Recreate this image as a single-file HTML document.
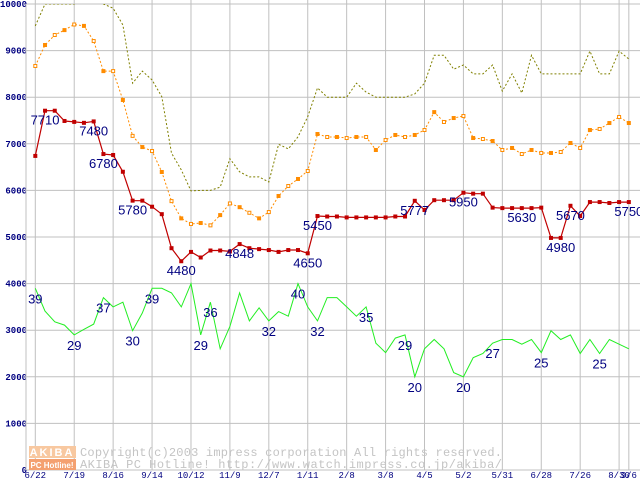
<!DOCTYPE html>
<html><head><meta charset="utf-8"><style>
html,body{margin:0;padding:0;background:#fff;}
svg{display:block;}
</style></head><body>
<svg id="chart" width="640" height="480" viewBox="0 0 640 480" xmlns="http://www.w3.org/2000/svg" font-family="'Liberation Sans', sans-serif">
<rect x="0" y="0" width="640" height="480" fill="#fff"/>
<g id="grid"></g>
<g id="watermark">
  <rect x="29" y="446" width="47" height="12" fill="#f8c8a0"/>
  <text x="52" y="456" font-size="11" font-weight="bold" fill="#fff" text-anchor="middle" letter-spacing="2">AKIBA</text>
  <rect x="29" y="459" width="47" height="11" fill="#f4a070"/>
  <text x="52" y="468" font-size="8" font-weight="bold" fill="#fff" text-anchor="middle">PC Hotline!</text>
  <text x="80" y="456" font-family="'Liberation Mono', monospace" font-size="12" fill="#c4c4c4" textLength="422">Copyright(c)2003 impress corporation All rights reserved.</text>
  <text x="80" y="468" font-family="'Liberation Mono', monospace" font-size="12" fill="#c4c4c4" textLength="422">AKIBA PC Hotline!  http://www.watch.impress.co.jp/akiba/</text>
</g>
<g id="series"></g>
<g id="labels"></g>
</svg>
<script>
const xTickLabels = ["6/22","7/19","8/16","9/14","10/12","11/9","12/7","1/11","2/8","3/8","4/5","5/2","5/31","6/28","7/26","8/30","9/6"];
const xTickIndex = [0,4,8,12,16,20,24,28,32,36,40,44,48,52,56,60,61];
const yTicks = [0,1000,2000,3000,4000,5000,6000,7000,8000,9000,10000];
const maxSeries = [9530,10000,10000,10000,10000,10200,10100,10000,9910,9550,8300,8560,8370,8010,6800,6440,5990,6000,6000,
 6070,6680,6400,6290,6290,6180,6990,6890,7150,7580,
 8200,8000,8000,8000,8300,8110,8000,8000,8000,8000,8070,
 8300,8900,8900,8600,8690,8500,8500,8690,8130,8500,8090,8900,8500,8500,8500,8500,8500,8990,8500,8500,8990,8820];
const avgSeries = [8670,9120,9335,9440,9560,9530,9205,8560,8560,7940,7170,6930,6845,6395,5770,5400,5280,5300,5250,
 5470,5720,5640,5520,5400,5535,5880,6094,6245,6416,
 7210,7146,7146,7124,7146,7146,6867,7081,7189,7146,7189,
 7296,7680,7468,7553,7596,7124,7103,7060,6867,6910,6781,6867,6803,6803,6824,7017,6910,7296,7318,7446,7575,7446];
const minSeries = [6740,7710,7710,7490,7470,7450,7480,6780,6760,6400,5780,5780,5650,5490,4760,
 4480,4680,4560,4710,4710,4690,4848,4760,4740,4720,4680,4720,4720,4650,
 5450,5440,5440,5420,5420,5420,5420,5420,5440,5440,5777,5580,5790,5790,5790,
 5950,5930,5930,5630,5620,5620,5620,5620,5630,4980,4980,5670,5450,5750,5750,5730,5750,5750];
const shopSeries = [39,34.1,31.8,31.1,29,30.2,31.3,37,35,36,29.9,33.7,39,39,38,35,40,29,36,26,30.8,38,32,34.8,32,34,33,40,35,32,37,
 37,35,33,35,27.2,25.2,28.3,29,20,26,28,26,20.9,20,24.1,25,27.2,28,28,27,28,25.2,29.9,28,29,25,28,25,28,27,26];
const minLabelIdx = [1,6,7,10,15,21,28,29,39,44,50,54,55,61];
const minLabelText = ["7710","7480","6780","5780","4480","4848","4650","5450","5777","5950","5630","4980","5670","5750"];
const shopLabelIdx = [0,4,7,10,12,17,18,24,27,29,34,38,39,44,47,52,58];

const NS = "http://www.w3.org/2000/svg";
function xs(i){ return 35.3 + i*9.73; }
function ys(v){ return 470 - v*0.0466; }
function mk(tag, attrs, parent){ const e=document.createElementNS(NS,tag); for(const k in attrs) e.setAttribute(k,attrs[k]); parent.appendChild(e); return e; }

const grid = document.getElementById('grid');
const series = document.getElementById('series');
const labels = document.getElementById('labels');

yTicks.forEach(function(v){
  const y = ys(v);
  const l = mk('line',{x1:26,x2:640,y1:y,y2:y,stroke:'#c0c0c0','stroke-width':1},grid);
  
  
  const t = mk('text',{x:27,y:y+3,'text-anchor':'end','font-size':9,'font-weight':'bold',fill:'#000080','font-family':"'Liberation Mono', monospace"},grid);
  t.textContent = String(v);
  
  
});
const ax = mk('line',{x1:26,x2:26,y1:4,y2:470,stroke:'#c0c0c0','stroke-width':1},grid);


xTickIndex.forEach(function(i,k){
  const x = xs(i);
  const l = mk('line',{x1:x,x2:x,y1:0,y2:470,stroke:'#c0c0c0','stroke-width':1},grid);
  
  
  const t = mk('text',{x:x,y:478,'text-anchor':'middle','font-size':9,fill:'#000080','font-family':"'Liberation Mono', monospace"},grid);
  t.textContent = xTickLabels[k];
  
  
});

function pts(arr, scale){ return arr.map(function(v,i){ return xs(i).toFixed(1)+','+ys(v*scale).toFixed(1); }).join(' '); }

const cp = mk('clipPath',{id:'plotclip'},document.getElementById('chart'));
mk('rect',{x:0,y:4,width:640,height:470},cp);

const maxLine = mk('polyline',{points:pts(maxSeries,1),fill:'none',stroke:'#808000','stroke-width':1,'stroke-dasharray':'2,2','clip-path':'url(#plotclip)'},series);



const avgLine = mk('polyline',{points:pts(avgSeries,1),fill:'none',stroke:'#ff8c00','stroke-width':1,'stroke-dasharray':'2,2'},series);


avgSeries.forEach(function(v,i){
  const r = mk('rect',{x:xs(i)-1.5,y:ys(v)-1.5,width:3,height:3,fill:(i%2?'#ff8c00':'#fff'),stroke:'#ff8c00','stroke-width':1},series);
  
  
});

const minLine = mk('polyline',{points:pts(minSeries,1),fill:'none',stroke:'#c00000','stroke-width':1.2},series);


minSeries.forEach(function(v,i){
  const r = mk('rect',{x:xs(i)-2,y:ys(v)-2,width:4,height:4,fill:'#c00000'},series);
  
  
});

const shopLine = mk('polyline',{points:pts(shopSeries,100),fill:'none',stroke:'#22ee22','stroke-width':1},series);



minLabelIdx.forEach(function(i,k){
  const t = mk('text',{x:xs(i),y:ys(minSeries[i])+14,'text-anchor':'middle','font-size':13,fill:'#000080'},labels);
  t.textContent = minLabelText[k];
  
  
});
shopLabelIdx.forEach(function(i){
  const t = mk('text',{x:xs(i),y:ys(shopSeries[i]*100)+15,'text-anchor':'middle','font-size':13,fill:'#000080'},labels);
  t.textContent = String(Math.round(shopSeries[i]));
  
  
});
</script>
</body></html>
